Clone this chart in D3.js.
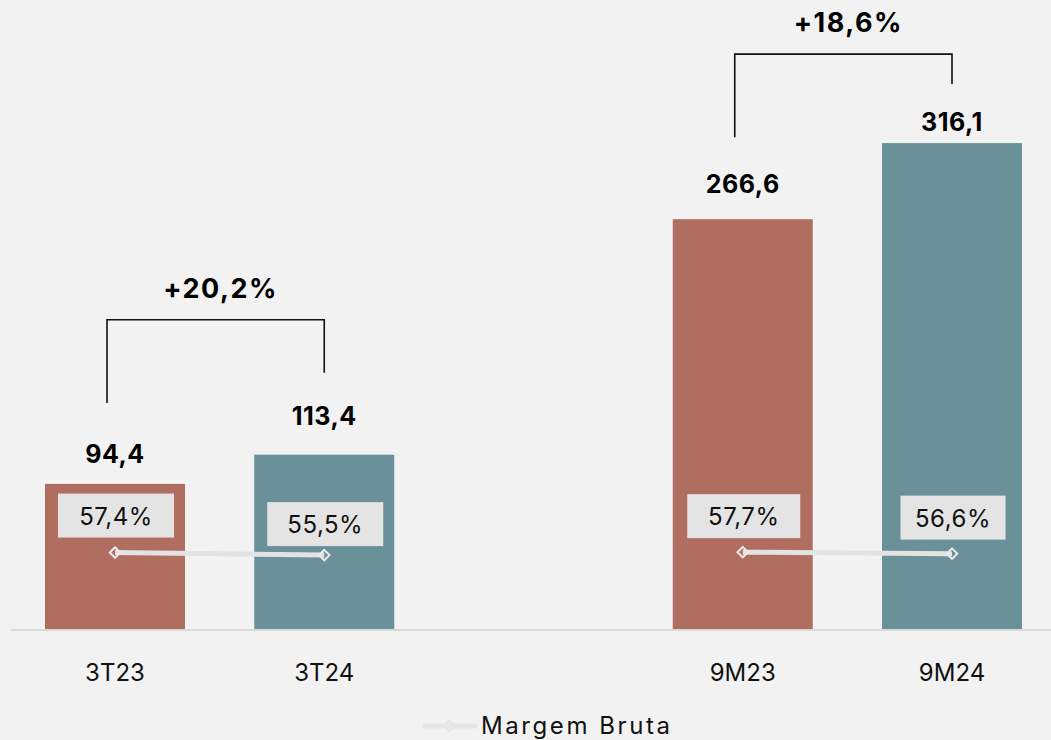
<!DOCTYPE html>
<html>
<head>
<meta charset="utf-8">
<script src="https://cdn.jsdelivr.net/npm/d3@7/dist/d3.min.js"></script>
<style>
  html, body { margin: 0; padding: 0; background: #f2f2f2; }
  svg { display: block; font-family: Inter, "Open Sans", sans-serif; }
</style>
</head>
<body>
<svg id="chart" width="1051" height="740"></svg>
<script>
// ---- data ----
const categories = ["3T23", "3T24", "9M23", "9M24"];
const slots = ["3T23", "3T24", "", "9M23", "9M24"];
const lucroBruto = [94.4, 113.4, 266.6, 316.1];
const margemBruta = [57.4, 55.5, 57.7, 56.6];
const barLabels = ["94,4", "113,4", "266,6", "316,1"];
const marginLabels = ["57,4%", "55,5%", "57,7%", "56,6%"];
const growthLabels = ["+20,2%", "+18,6%"];
const growthPairs = [[0, 1], [2, 3]];
const legendLabel = "Margem Bruta";

// ---- layout / style (not data) ----
const barColors = ["#b06e61", "#6a9199", "#b06e61", "#6a9199"];
const valueLabelGap = [21, 30, 26, 12];
const boxGap = [37, 31, 36, 36];
const boxWidths = [116, 116, 113, 105];
const bracketEndGap = [[81, 82], [82, 59]];
const bracketTopGap = [53, 30];

const svg = d3.select("#chart");
const W = 1051, H = 740;
svg.append("rect").attr("width", W).attr("height", H).attr("fill", "#f2f2f2");

const baseY = 629;
const x = d3.scalePoint().domain(slots).range([115, 952]);
const y = d3.scaleLinear().domain([0, 350]).range([baseY, 91]);
const y2 = d3.scaleLinear().domain([0, 404]).range([baseY, 91]);
const barW = 140;

// bars
svg.append("g").selectAll("rect").data(categories).join("rect")
  .attr("x", d => x(d) - barW / 2)
  .attr("y", (d, i) => y(lucroBruto[i]))
  .attr("width", barW)
  .attr("height", (d, i) => y(0) - y(lucroBruto[i]))
  .attr("fill", (d, i) => barColors[i]);

// baseline
svg.append("line").attr("x1", 11).attr("x2", W).attr("y1", baseY + 1).attr("y2", baseY + 1)
  .attr("stroke", "#d9d9d9").attr("stroke-width", 2);

// value labels
svg.append("g").selectAll("text").data(categories).join("text")
  .attr("x", d => x(d))
  .attr("y", (d, i) => y(lucroBruto[i]) - valueLabelGap[i])
  .attr("text-anchor", "middle")
  .attr("font-size", 25).attr("font-weight", 700).attr("fill", "#000")
  .attr("letter-spacing", 0.5)
  .text((d, i) => barLabels[i]);

// category labels
svg.append("g").selectAll("text").data(categories).join("text")
  .attr("x", d => x(d))
  .attr("y", 681)
  .attr("text-anchor", "middle")
  .attr("font-size", 24).attr("fill", "#111")
  .text(d => d);

// margin line segments
const lineGen = d3.line().x(d => x(d.c)).y(d => y2(d.v));
growthPairs.forEach(p => {
  const pts = p.map(i => ({ c: categories[i], v: margemBruta[i] }));
  svg.append("path").attr("d", lineGen(pts))
    .attr("fill", "none").attr("stroke", "#e3e3e3").attr("stroke-width", 5);
});

// margin label boxes
const boxH = 44;
const mg = svg.append("g").selectAll("g").data(categories).join("g");
mg.append("rect")
  .attr("x", (d, i) => x(d) - boxWidths[i] / 2 + 1)
  .attr("y", (d, i) => y2(margemBruta[i]) - boxGap[i] - boxH / 2)
  .attr("width", (d, i) => boxWidths[i])
  .attr("height", boxH)
  .attr("fill", "#e4e4e4");
mg.append("text")
  .attr("x", d => x(d) + 1)
  .attr("y", (d, i) => y2(margemBruta[i]) - boxGap[i] + 9)
  .attr("text-anchor", "middle")
  .attr("font-size", 24).attr("fill", "#111")
  .attr("letter-spacing", 0.5)
  .text((d, i) => marginLabels[i]);

// diamond markers
const diamond = d3.symbol().type(d3.symbolDiamond2).size(70);
svg.append("g").selectAll("path").data(categories).join("path")
  .attr("d", diamond)
  .attr("transform", (d, i) => `translate(${x(d)},${y2(margemBruta[i])})`)
  .attr("fill", "none").attr("stroke", "#ececec").attr("stroke-width", 2);

// growth brackets
growthPairs.forEach((p, k) => {
  const [a, b] = p;
  const xa = x(categories[a]) - 8, xb = x(categories[b]);
  const ya = y(lucroBruto[a]) - bracketEndGap[k][0];
  const yb = y(lucroBruto[b]) - bracketEndGap[k][1];
  const yt = yb - bracketTopGap[k];
  svg.append("path")
    .attr("d", `M${xa},${ya}V${yt}H${xb}V${yb}`)
    .attr("fill", "none").attr("stroke", "#111").attr("stroke-width", 1.6);
  svg.append("text")
    .attr("x", (xa + xb) / 2 + 5)
    .attr("y", yt - 22)
    .attr("text-anchor", "middle")
    .attr("font-size", 27).attr("font-weight", 700).attr("fill", "#000")
    .attr("letter-spacing", 1.5)
    .text(growthLabels[k]);
});

// legend
const lg = svg.append("g");
lg.append("line").attr("x1", 422).attr("x2", 477).attr("y1", 726).attr("y2", 726)
  .attr("stroke", "#e6e6e6").attr("stroke-width", 5);
lg.append("path").attr("d", diamond).attr("transform", "translate(449,726)")
  .attr("fill", "none").attr("stroke", "#e6e6e6").attr("stroke-width", 2);
lg.append("text").attr("x", 481).attr("y", 734)
  .attr("font-size", 24).attr("fill", "#111")
  .attr("textLength", 189).attr("lengthAdjust", "spacing")
  .text(legendLabel);
</script>
</body>
</html>
